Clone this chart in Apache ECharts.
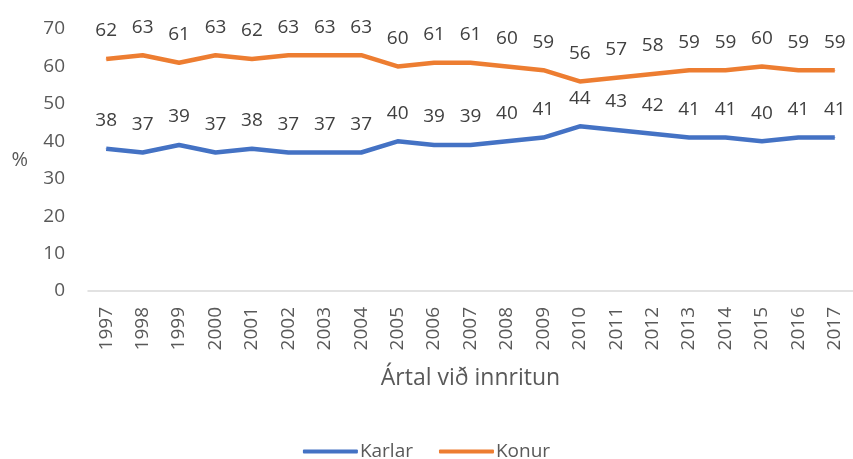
<!DOCTYPE html>
<html>
<head>
<meta charset="utf-8">
<script src="https://cdn.jsdelivr.net/npm/echarts@6/dist/echarts.min.js"></script>
<style>
  html, body { margin: 0; padding: 0; background: #fff; }
  #chart { width: 853px; height: 459px; }
</style>
</head>
<body>
<div id="chart"></div>
<script>
const years = ['1997','1998','1999','2000','2001','2002','2003','2004','2005','2006','2007',
  '2008','2009','2010','2011','2012','2013','2014','2015','2016','2017'];
const karlar = [38,37,39,37,38,37,37,37,40,39,39,40,41,44,43,42,41,41,40,41,41];
const konur = [62,63,61,63,62,63,63,63,60,61,61,60,59,56,57,58,59,59,60,59,59];
const yTicks = [0,10,20,30,40,50,60,70];

const chart = echarts.init(document.getElementById('chart'));
const font = 'Open Sans';
const textColor = '#595959';

function lineSeries(name, data, color) {
  return {
    name: name,
    type: 'line',
    data: data,
    symbol: 'circle',
    symbolSize: 1,
    lineStyle: { color: color, width: 4.5 },
    itemStyle: { color: color },
    label: {
      show: true,
      position: 'top',
      distance: 18,
      color: '#404040',
      fontFamily: font,
      fontSize: 19
    }
  };
}

chart.setOption({
  animation: false,
  grid: { left: 88, right: -8, top: 29, height: 262 },
  legend: {
    top: 437,
    left: 'center',
    itemWidth: 55,
    itemHeight: 4,
    itemGap: 26,
    icon: 'roundRect',
    textStyle: { color: textColor, fontFamily: font, fontSize: 19, padding: [0, 0, 0, -3] },
    data: ['Karlar', 'Konur']
  },
  xAxis: {
    type: 'category',
    data: years,
    boundaryGap: true,
    name: 'Ártal við innritun',
    nameLocation: 'middle',
    nameGap: 76,
    nameTextStyle: { color: textColor, fontFamily: font, fontSize: 23 },
    axisTick: { show: false },
    axisLine: { lineStyle: { color: '#d9d9d9', width: 1.5 } },
    axisLabel: {
      rotate: 90,
      interval: 0,
      margin: 16,
      color: textColor,
      fontFamily: font,
      fontSize: 19
    }
  },
  yAxis: {
    type: 'value',
    min: yTicks[0],
    max: yTicks[yTicks.length - 1],
    interval: 10,
    name: '%',
    nameLocation: 'middle',
    nameRotate: 0,
    nameGap: 60,
    nameTextStyle: { color: textColor, fontFamily: font, fontSize: 20 },
    splitLine: { show: false },
    axisLine: { show: false },
    axisTick: { show: false },
    axisLabel: {
      margin: 23,
      color: textColor,
      fontFamily: font,
      fontSize: 19
    }
  },
  series: [
    lineSeries('Karlar', karlar, '#4472C4'),
    lineSeries('Konur', konur, '#ED7D31')
  ]
});
</script>
</body>
</html>
